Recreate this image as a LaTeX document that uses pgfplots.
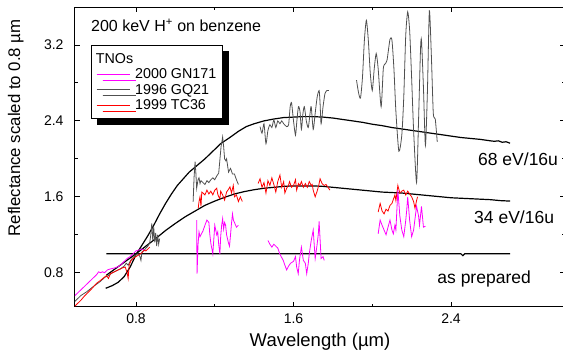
\documentclass[border=0pt]{standalone}
\usepackage{pgfplots}
\pgfplotsset{compat=1.18}
\usepackage{fontspec}
\setmainfont{Liberation Sans}
\usetikzlibrary{shadows}
\definecolor{tnogrey}{HTML}{505050}
\definecolor{tnomag}{HTML}{FF00FF}
\definecolor{tnored}{HTML}{FF0000}
\newcommand{\fs}[1]{\fontsize{#1}{#1}\selectfont}
\begin{document}
\begin{tikzpicture}
\begin{axis}[
  scale only axis, width=490pt, height=299.5pt,
  xmin=0.49, xmax=2.979, ymin=0.439, ymax=3.595,
  xtick={0.8,1.6,2.4}, ytick={0.8,1.6,2.4,3.2},
  minor x tick num=1, minor y tick num=1,
  tick align=inside, major tick length=5pt, minor tick length=3pt,
  tick style={black, line width=0.9pt},
  axis line style={black, line width=1pt},
  /pgf/number format/assume math mode=true,
  /pgf/number format/fixed, /pgf/number format/fixed zerofill, /pgf/number format/precision=1,
  tick label style={font=\fs{14}},
  xticklabel style={yshift=-3pt},
  yticklabel style={xshift=-8pt},
  xlabel={Wavelength (µm)}, ylabel={Reflectance scaled to 0.8 µm},
  every axis x label/.style={at={(axis description cs:0.5,-0.1326)}, anchor=base, font=\fs{18.5}},
  every axis y label/.style={at={(axis description cs:-0.1122,0.598)}, rotate=90, anchor=base, font=\fs{16.8}},
  legend image code/.code={\draw[#1] (0pt,0pt) -- (33pt,0pt); \path (36pt,0pt);},
  legend cell align=left,
  legend style={at={(0.0328,0.875)}, anchor=north west,
    draw=black, line width=0.8pt, fill=white,
    drop shadow={shadow xshift=6pt, shadow yshift=-6pt, fill=black, opacity=1},
    inner xsep=4.5pt, inner ysep=5.8pt, row sep=0pt},
]
\addlegendimage{empty legend}\addlegendentry{\makebox[0pt][l]{\hspace*{-39.3pt}\fs{14.3}TNOs}}
\addlegendimage{color=tnomag, line width=1.2pt}\addlegendentry{\fs{14.3}2000 GN171}
\addlegendimage{color=tnogrey, line width=1.2pt}\addlegendentry{\fs{14.3}1996 GQ21}
\addlegendimage{color=tnored, line width=1.2pt}\addlegendentry{\fs{14.3}1999 TC36}

% ---- lab spectra ----
\addplot[black, line width=1.2pt, forget plot] coordinates {
(0.65,1.0) (1.0,1.0) (1.5,1.0) (2.0,1.0) (2.45,1.0) (2.46,0.98) (2.47,1.0) (2.70,1.0)};
\addplot[black, line width=1.2pt, forget plot] coordinates {
(0.65,0.775) (0.70,0.85) (0.75,0.925) (0.80,1.0) (0.85,1.08) (0.90,1.16) (0.95,1.245)
(1.0,1.32) (1.05,1.39) (1.10,1.45) (1.15,1.51) (1.20,1.555) (1.25,1.595) (1.30,1.63)
(1.35,1.655) (1.40,1.675) (1.45,1.69) (1.50,1.70) (1.55,1.71) (1.60,1.715) (1.65,1.715)
(1.70,1.715) (1.75,1.71) (1.80,1.70) (1.85,1.69) (1.90,1.68) (1.95,1.67) (2.00,1.66)
(2.05,1.65) (2.10,1.645) (2.15,1.64) (2.20,1.63) (2.25,1.62) (2.30,1.61) (2.35,1.60)
(2.40,1.59) (2.45,1.585) (2.50,1.58) (2.55,1.575) (2.60,1.57) (2.65,1.56) (2.70,1.555)};
\addplot[black, line width=1.2pt, forget plot] coordinates {
(0.646,0.636) (0.68,0.665) (0.71,0.70) (0.74,0.76) (0.77,0.86) (0.80,0.99) (0.83,1.09)
(0.86,1.19) (0.89,1.30) (0.92,1.42) (0.95,1.53) (0.98,1.63) (1.01,1.72) (1.04,1.79)
(1.07,1.86) (1.11,1.93) (1.15,2.00) (1.19,2.08) (1.23,2.16) (1.28,2.23) (1.32,2.29)
(1.36,2.34) (1.40,2.37) (1.45,2.40) (1.50,2.42) (1.55,2.435) (1.60,2.44) (1.65,2.445)
(1.70,2.445) (1.75,2.44) (1.80,2.43) (1.85,2.415) (1.90,2.40) (1.95,2.385) (2.00,2.365)
(2.05,2.35) (2.10,2.33) (2.15,2.315) (2.20,2.30) (2.25,2.285) (2.30,2.27) (2.35,2.255)
(2.40,2.24) (2.45,2.225) (2.50,2.215) (2.55,2.205) (2.60,2.19) (2.62,2.185) (2.64,2.19)
(2.66,2.175) (2.68,2.18) (2.70,2.165)};

% ---- 1996 GQ21 ----
\addplot[tnogrey, line width=0.8pt, forget plot] coordinates {
(0.485,0.49) (0.50,0.52) (0.52,0.56) (0.55,0.60) (0.58,0.65) (0.60,0.68) (0.62,0.71)
(0.64,0.75) (0.66,0.77) (0.68,0.80) (0.70,0.82) (0.72,0.84) (0.74,0.87) (0.75,0.90)
(0.76,0.88) (0.77,0.92) (0.78,0.95) (0.79,0.97) (0.80,0.99) (0.81,1.00) (0.82,0.97)
(0.825,0.93) (0.83,1.02) (0.84,1.03) (0.85,1.06) (0.86,1.08) (0.87,1.12) (0.875,1.20)
(0.88,1.32) (0.885,1.14) (0.89,1.28) (0.895,1.12) (0.90,1.22) (0.905,1.08) (0.91,1.20)
(0.915,1.10) (0.92,1.16)};
\addplot[tnogrey, line width=0.8pt, forget plot] coordinates {
(1.09,1.55) (1.095,1.81) (1.10,1.97) (1.104,1.85) (1.108,1.69) (1.115,1.78) (1.12,1.80)
(1.125,1.74) (1.13,1.77) (1.14,1.75) (1.15,1.73) (1.16,1.77) (1.17,1.75) (1.18,1.78)
(1.19,1.80) (1.20,1.78) (1.21,1.82) (1.22,1.85) (1.226,1.99) (1.232,2.13) (1.24,2.23)
(1.245,2.13) (1.25,2.0) (1.256,1.98) (1.26,2.0) (1.27,1.86) (1.28,1.90) (1.29,1.84)
(1.30,1.84) (1.31,1.78) (1.32,1.73)};
\addplot[tnogrey, line width=0.8pt, smooth, tension=0.4, forget plot] coordinates {
(1.43,2.34) (1.44,2.27) (1.45,2.37) (1.46,2.16) (1.47,2.30) (1.48,2.36) (1.49,2.33)
(1.50,2.41) (1.51,2.33) (1.52,2.40) (1.531,2.37) (1.54,2.40) (1.55,2.37) (1.565,2.34)
(1.575,2.36) (1.583,2.55) (1.59,2.59) (1.60,2.40) (1.61,2.25) (1.617,2.40) (1.625,2.55)
(1.633,2.50) (1.64,2.31) (1.648,2.48) (1.655,2.55) (1.665,2.40) (1.675,2.33) (1.684,2.48)
(1.69,2.55) (1.70,2.31) (1.71,2.48) (1.72,2.65) (1.73,2.72) (1.735,2.58) (1.74,2.37)
(1.75,2.55) (1.76,2.69) (1.77,2.72) (1.78,2.72)};
\addplot[tnogrey, line width=0.8pt, smooth, tension=0.4, forget plot] coordinates {
(1.920,2.83) (1.930,2.70) (1.940,2.64) (1.950,2.85) (1.960,3.25) (1.970,3.46) (1.980,3.25)
(1.990,2.90) (2.000,2.72) (2.010,2.95) (2.020,3.11) (2.030,2.95) (2.045,2.55) (2.056,2.95)
(2.065,3.00) (2.075,3.04) (2.090,3.26) (2.100,3.25) (2.110,2.95) (2.120,2.50) (2.135,2.08)
(2.150,2.25) (2.160,2.65) (2.170,3.30) (2.180,3.55) (2.190,3.35) (2.200,2.85) (2.210,2.30)
(2.225,1.75) (2.235,2.40) (2.245,3.15) (2.250,3.25) (2.260,2.75) (2.270,2.14) (2.280,2.70)
(2.290,3.56) (2.300,3.10) (2.310,2.48) (2.320,2.42) (2.330,2.18)};

% ---- 1999 TC36 ----
\addplot[tnored, line width=0.8pt, forget plot] coordinates {
(0.485,0.44) (0.50,0.47) (0.52,0.51) (0.536,0.55) (0.55,0.58) (0.57,0.62) (0.587,0.66)
(0.60,0.69) (0.62,0.72) (0.637,0.75) (0.65,0.77) (0.66,0.74) (0.67,0.79) (0.69,0.81)
(0.71,0.83) (0.73,0.85) (0.745,0.86) (0.755,0.80) (0.76,0.74) (0.765,0.88) (0.775,0.93)
(0.79,0.96) (0.80,0.97) (0.815,0.99) (0.83,1.01) (0.84,1.04) (0.85,1.03) (0.86,1.05)
(0.87,1.07)};
\addplot[tnored, line width=0.8pt, forget plot] coordinates {
(1.116,1.48) (1.12,1.55) (1.125,1.60) (1.13,1.50) (1.134,1.65) (1.14,1.64) (1.15,1.62)
(1.16,1.67) (1.17,1.63) (1.18,1.66) (1.19,1.62) (1.20,1.67) (1.21,1.69) (1.215,1.63)
(1.22,1.60) (1.226,1.58) (1.23,1.66) (1.24,1.62) (1.25,1.565) (1.26,1.65) (1.27,1.68)
(1.277,1.705) (1.285,1.64) (1.294,1.72) (1.30,1.60) (1.31,1.62) (1.32,1.55) (1.33,1.60)
(1.34,1.55)};
\addplot[tnored, line width=0.8pt, forget plot] coordinates {
(1.42,1.74) (1.43,1.79) (1.44,1.70) (1.45,1.75) (1.46,1.64) (1.47,1.77) (1.48,1.72)
(1.49,1.80) (1.50,1.73) (1.51,1.65) (1.52,1.76) (1.531,1.83) (1.54,1.70) (1.55,1.76)
(1.556,1.64) (1.565,1.69) (1.574,1.72) (1.58,1.76) (1.59,1.70) (1.60,1.72) (1.61,1.78)
(1.616,1.67) (1.625,1.74) (1.633,1.72) (1.64,1.76) (1.65,1.70) (1.66,1.74) (1.67,1.70)
(1.68,1.76) (1.69,1.72) (1.695,1.73) (1.70,1.67) (1.71,1.60) (1.72,1.66) (1.728,1.72)
(1.735,1.79) (1.745,1.74) (1.755,1.72) (1.765,1.73) (1.775,1.70) (1.785,1.67)};
\addplot[tnored, line width=0.8pt, forget plot] coordinates {
(2.03,1.44) (2.04,1.53) (2.05,1.45) (2.06,1.42) (2.07,1.47) (2.08,1.45) (2.09,1.51)
(2.10,1.53) (2.115,1.62) (2.12,1.56) (2.13,1.72) (2.14,1.64) (2.15,1.66) (2.16,1.67)
(2.17,1.62) (2.18,1.66) (2.19,1.63) (2.20,1.60) (2.21,1.55) (2.217,1.48) (2.225,1.56)
(2.23,1.60)};

% ---- 2000 GN171 ----
\addplot[tnomag, line width=0.8pt, forget plot] coordinates {
(0.485,0.55) (0.50,0.58) (0.52,0.62) (0.54,0.66) (0.56,0.70) (0.58,0.74) (0.60,0.78)
(0.61,0.81) (0.62,0.80) (0.63,0.81) (0.64,0.80) (0.655,0.83) (0.67,0.84) (0.69,0.85)
(0.705,0.86) (0.72,0.88) (0.74,0.92) (0.755,0.95) (0.77,0.97) (0.785,1.0) (0.80,1.03)
(0.815,1.04) (0.83,1.05) (0.84,1.04)};
\addplot[tnomag, line width=0.8pt, forget plot] coordinates {
(1.108,1.355) (1.110,0.79) (1.115,1.10) (1.12,1.23) (1.125,1.18) (1.13,1.20) (1.14,1.24)
(1.15,1.30) (1.16,1.355) (1.17,1.33) (1.175,1.20) (1.18,1.11) (1.19,1.00) (1.20,1.30)
(1.205,1.25) (1.21,1.20) (1.215,1.23) (1.22,1.10) (1.226,1.00) (1.23,1.18) (1.235,1.30)
(1.24,1.37) (1.245,1.26) (1.25,1.33) (1.255,1.30) (1.26,1.20) (1.27,1.11) (1.275,1.08)
(1.28,1.20) (1.285,1.32) (1.29,1.42) (1.295,1.35) (1.30,1.33) (1.31,1.28) (1.32,1.30)};
\addplot[tnomag, line width=0.8pt, forget plot] coordinates {
(1.47,1.14) (1.48,1.10) (1.49,1.07) (1.50,1.10) (1.51,1.08) (1.52,1.06) (1.53,1.00)
(1.54,0.96) (1.548,0.93) (1.556,0.88) (1.565,0.83) (1.575,0.87) (1.585,0.90) (1.60,0.92)
(1.61,0.97) (1.616,0.86) (1.624,0.79) (1.63,0.93) (1.64,1.07) (1.65,0.93) (1.66,0.90)
(1.667,0.79) (1.675,0.90) (1.68,1.00) (1.69,1.14) (1.70,1.25) (1.705,1.10) (1.71,0.95)
(1.72,1.10) (1.726,1.21) (1.73,1.34) (1.735,1.15) (1.74,0.95) (1.75,0.97) (1.756,0.93)};
\addplot[tnomag, line width=0.8pt, forget plot] coordinates {
(2.03,1.21) (2.04,1.355) (2.05,1.30) (2.06,1.25) (2.07,1.20) (2.08,1.28) (2.09,1.355)
(2.10,1.25) (2.107,1.21) (2.115,1.30) (2.12,1.25) (2.13,1.67) (2.14,1.40) (2.15,1.25)
(2.16,1.18) (2.17,1.35) (2.175,1.46) (2.18,1.60) (2.19,1.35) (2.20,1.18) (2.21,1.25)
(2.225,1.50) (2.235,1.40) (2.24,1.30) (2.25,1.50) (2.26,1.28) (2.27,1.29)};

% ---- annotations ----
\node[anchor=base west, font=\fs{16}, inner sep=0pt] at (axis cs:0.571,3.337) {200 keV H\textsuperscript{+} on benzene};
\node[anchor=base west, font=\fs{17.5}, inner sep=0pt] at (axis cs:2.537,1.934) {68 eV/16u};
\node[anchor=base west, font=\fs{17.5}, inner sep=0pt] at (axis cs:2.517,1.323) {34 eV/16u};
\node[anchor=base west, font=\fs{17.5}, inner sep=0pt] at (axis cs:2.33,0.69) {as prepared};
\end{axis}
\pgfresetboundingbox
\path[use as bounding box] ([shift={(-75pt,-48pt)}]current axis.south west) rectangle ([shift={(-2pt,7.5pt)}]current axis.north east);
\end{tikzpicture}
\end{document}
